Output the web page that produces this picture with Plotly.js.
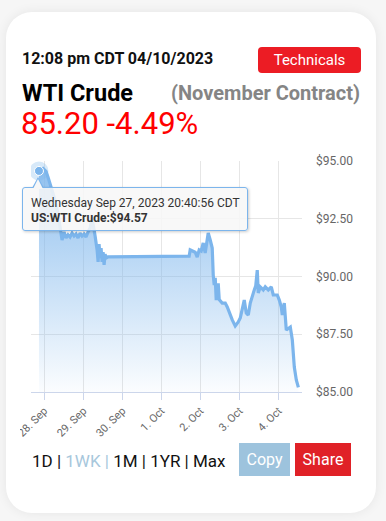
<!DOCTYPE html>
<html>
<head>
<meta charset="utf-8">
<script src="https://cdn.plot.ly/plotly-3.0.1.min.js"></script>
<style>
  html, body { margin:0; padding:0; }
  body { width:386px; height:521px; background:#f6f6f6; position:relative; overflow:hidden; font-family: Roboto, "Noto Sans", sans-serif; }
  #card { position:absolute; left:6px; top:12px; width:370px; height:501px; background:#fff; border-radius:26px; box-shadow:0 0 12px rgba(0,0,0,0.07); }
  .abs { position:absolute; white-space:nowrap; line-height:1; }
  #stamp { left:22px; top:51px; font-size:16px; font-weight:700; color:#111; }
  #tech { left:258px; top:47px; width:103px; height:26px; background:#ec1c24; border-radius:4px; color:#fff; font-size:15px; display:flex; align-items:center; justify-content:center; }
  #name { left:22px; top:82px; font-size:23.5px; font-weight:700; color:#000; }
  #contract { right:26px; top:83px; font-size:20px; font-weight:700; color:#858585; }
  #price { left:21px; top:108px; font-size:31px; color:#ff0000; }
  #chart { position:absolute; left:20px; top:150px; width:346px; height:300px; }
  #tip { position:absolute; left:22px; top:187px; width:224px; height:42px; background:rgba(247,247,247,0.86); border:1px solid #7cb5ec; border-radius:3px; box-shadow:1px 1px 3px rgba(0,0,0,0.2); color:#333; font-size:12px; }
  #tip .l1 { position:absolute; left:8px; top:9px; }
  #tip .l2 { position:absolute; left:8px; top:24px; font-weight:700; }
  #ptrOut { position:absolute; left:32px; top:177px; width:0; height:0; border-left:6px solid transparent; border-right:6px solid transparent; border-bottom:11px solid #7cb5ec; }
  #ptrIn { position:absolute; left:33px; top:179px; width:0; height:0; border-left:5px solid transparent; border-right:5px solid transparent; border-bottom:10px solid rgb(247,247,247); }
  #ranges { left:32px; top:453px; font-size:17px; color:#111; }
  #ranges .dim { color:#a7c7dc; }
  .btn { position:absolute; top:443px; height:33px; color:#fff; font-size:16px; display:flex; align-items:center; justify-content:center; }
  #copy { left:239px; width:51px; background:#9dc3dd; }
  #share { left:295px; width:56px; background:#e02127; }
</style>
</head>
<body>
<div id="card"></div>
<div class="abs" id="stamp">12:08 pm CDT 04/10/2023</div>
<div class="abs" id="tech">Technicals</div>
<div class="abs" id="name">WTI Crude</div>
<div class="abs" id="contract">(November Contract)</div>
<div class="abs" id="price">85.20 -4.49%</div>
<div id="chart"></div>
<div id="ptrOut"></div>
<div id="tip"><div class="abs l1" id="tipl1"></div><div class="abs l2" id="tipl2"></div></div>
<div id="ptrIn"></div>
<div class="abs" id="ranges">1D | <span class="dim">1WK |</span> 1M | 1YR | Max</div>
<div class="btn" id="copy">Copy</div>
<div class="btn" id="share">Share</div>
<script>
const seriesName = "US:WTI Crude";
const times = [
  "2023-09-27 20:40:56","2023-09-27 21:20","2023-09-27 23:11","2023-09-28 01:02","2023-09-28 02:16","2023-09-28 03:29",
  "2023-09-28 04:43","2023-09-28 06:34","2023-09-28 08:25","2023-09-28 09:38","2023-09-28 10:52","2023-09-28 12:06",
  "2023-09-28 13:20","2023-09-28 14:34","2023-09-28 15:47","2023-09-28 17:02","2023-09-28 18:16","2023-09-28 19:29",
  "2023-09-28 20:43","2023-09-28 21:57","2023-09-28 23:11","2023-09-29 00:25","2023-09-29 01:38","2023-09-29 02:52",
  "2023-09-29 04:06","2023-09-29 05:20","2023-09-29 05:57","2023-09-29 07:11","2023-09-29 08:25","2023-09-29 09:02",
  "2023-09-29 09:38","2023-09-29 10:15","2023-09-29 10:52","2023-09-29 11:29","2023-09-29 12:06","2023-09-29 12:43",
  "2023-09-29 13:20","2023-09-29 13:57","2023-09-29 15:11","2023-09-29 16:00","2023-10-01 17:00","2023-10-01 17:38",
  "2023-10-01 18:52","2023-10-01 20:43","2023-10-01 21:57","2023-10-01 23:10","2023-10-02 00:24","2023-10-02 01:38",
  "2023-10-02 02:52","2023-10-02 03:47","2023-10-02 04:43","2023-10-02 05:57","2023-10-02 07:11","2023-10-02 07:48",
  "2023-10-02 08:25","2023-10-02 09:02","2023-10-02 09:38","2023-10-02 10:52","2023-10-02 11:29","2023-10-02 13:20",
  "2023-10-02 15:11","2023-10-02 16:25","2023-10-02 17:02","2023-10-02 18:16","2023-10-02 19:29","2023-10-02 21:20",
  "2023-10-02 23:11","2023-10-03 00:25","2023-10-03 01:38","2023-10-03 02:52","2023-10-03 04:06","2023-10-03 05:20",
  "2023-10-03 06:34","2023-10-03 07:48","2023-10-03 09:02","2023-10-03 09:57","2023-10-03 10:52","2023-10-03 11:29",
  "2023-10-03 12:43","2023-10-03 14:34","2023-10-03 15:47","2023-10-03 17:38","2023-10-03 19:29","2023-10-03 20:43",
  "2023-10-03 23:11","2023-10-04 00:25","2023-10-04 01:38","2023-10-04 02:16","2023-10-04 03:29","2023-10-04 04:43",
  "2023-10-04 05:57","2023-10-04 07:11","2023-10-04 08:25","2023-10-04 09:02","2023-10-04 09:38","2023-10-04 10:52",
  "2023-10-04 12:08"
];
const prices = [
  94.57,94.62,94.68,94.55,94.30,94.00,
  93.70,93.30,92.70,92.20,91.58,91.93,
  91.67,91.80,91.71,91.88,91.75,91.84,
  91.67,91.88,91.75,91.84,91.71,91.93,
  92.10,92.53,92.19,91.75,91.15,90.63,
  91.40,90.80,91.23,90.63,91.06,90.50,
  90.97,90.80,90.85,90.85,90.88,91.15,
  91.10,91.05,90.84,91.15,91.10,91.45,
  91.02,91.60,91.88,91.58,91.23,90.06,
  89.63,89.94,88.98,89.70,89.00,88.85,
  88.85,88.68,88.55,88.33,88.12,87.86,
  88.03,88.20,88.55,88.98,88.42,88.33,
  88.85,89.20,89.42,89.60,90.28,89.29,
  89.55,89.42,89.55,89.42,89.55,89.20,
  89.20,88.98,88.68,88.33,88.85,87.68,
  87.75,87.81,87.25,86.69,86.08,85.52,
  85.20
];
const tickDays = ["2023-09-28","2023-09-29","2023-09-30","2023-10-01","2023-10-02","2023-10-03","2023-10-04"];
const tickText = ["28. Sep","29. Sep","30. Sep","1. Oct","2. Oct","3. Oct","4. Oct"];
const priceTicks = [85, 87.5, 90, 92.5, 95];
const priceTickText = ["$85.00","$87.50","$90.00","$92.50","$95.00"];
const tipDate = "Wednesday Sep 27, 2023 20:40:56 CDT";

document.getElementById('tipl1').textContent = tipDate;
document.getElementById('tipl2').textContent = seriesName + ":$" + prices[0].toFixed(2);

const blue = '#7cb5ec';
const traces = [
  {
    x: times, y: prices, type: 'scatter', mode: 'lines',
    line: { color: blue, width: 3.2, shape: 'linear' },
    fill: 'tozeroy',
    fillgradient: { type: 'vertical', start: 85, stop: 95,
      colorscale: [[0, 'rgba(124,181,236,0.03)'], [1, 'rgba(124,181,236,0.88)']] },
    hoverinfo: 'skip'
  },
  {
    x: [times[0]], y: [prices[0]], type: 'scatter', mode: 'markers',
    marker: { size: 19, color: 'rgba(124,181,236,0.3)' }, hoverinfo: 'skip'
  },
  {
    x: [times[0]], y: [prices[0]], type: 'scatter', mode: 'markers',
    marker: { size: 9, color: blue, line: { color: '#ffffff', width: 1 } }, hoverinfo: 'skip'
  }
];
const layout = {
  width: 346, height: 300,
  margin: { l: 11, r: 64, t: 11, b: 58 },
  paper_bgcolor: 'rgba(0,0,0,0)', plot_bgcolor: 'rgba(0,0,0,0)',
  showlegend: false,
  font: { family: 'Roboto, sans-serif', color: '#666' },
  xaxis: {
    type: 'date', range: ['2023-09-27 15:47', '2023-10-04 14:22'],
    tickvals: tickDays, ticktext: tickText, tickangle: -45,
    tickfont: { size: 11, color: '#666' }, ticklabeloverflow: 'allow',
    ticks: 'outside', ticklen: 7, tickcolor: '#ccd6eb', tickwidth: 1,
    showline: true, linecolor: '#ccd6eb', linewidth: 1,
    showgrid: true, gridcolor: '#e6e6e6', gridwidth: 1,
    zeroline: false, fixedrange: true, automargin: false
  },
  yaxis: {
    side: 'right', range: [85, 95],
    tickvals: priceTicks, ticktext: priceTickText,
    tickfont: { size: 12, color: '#666' },
    ticks: '', ticklabelstandoff: 13,
    showline: false, showgrid: true, gridcolor: '#e6e6e6', gridwidth: 1,
    zeroline: false, fixedrange: true, automargin: false
  }
};
Plotly.newPlot('chart', traces, layout, { displayModeBar: false, staticPlot: true });
</script>
</body>
</html>
